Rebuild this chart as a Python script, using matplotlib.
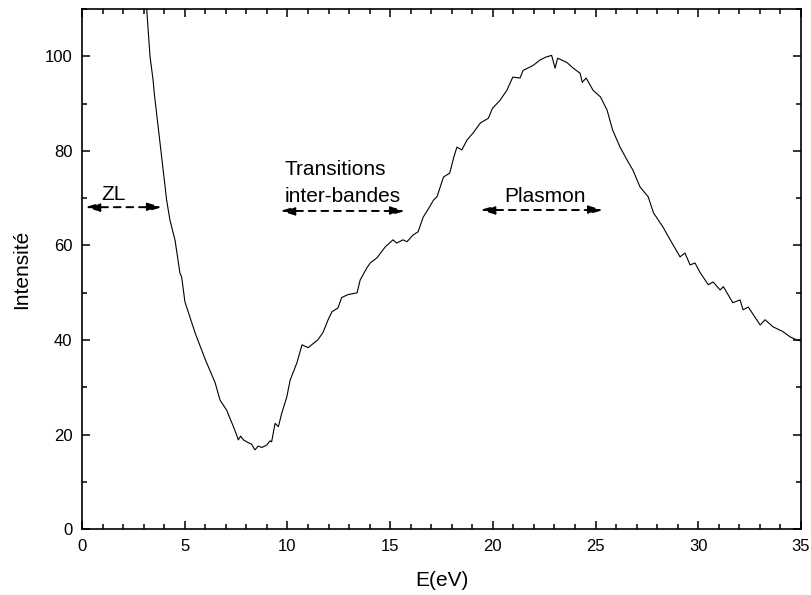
import matplotlib.pyplot as plt
from matplotlib.patches import FancyArrowPatch
from matplotlib.ticker import MultipleLocator

plt.rcParams['font.family'] = ['Liberation Sans', 'DejaVu Sans']

# Low-loss EELS spectrum: energy loss (eV) and intensity
energy = [3.02, 3.15, 3.31, 3.46, 3.52, 4.12, 4.28, 4.53, 4.77, 4.85,
          5.01, 5.50, 6.00, 6.48, 6.72, 7.04, 7.37, 7.53, 7.61, 7.72,
          7.86, 8.10, 8.25, 8.42, 8.58, 8.75, 8.99, 9.15, 9.23, 9.40,
          9.56, 9.72, 9.97, 10.13, 10.46, 10.71, 11.01, 11.49, 11.73, 11.98,
          12.17, 12.46, 12.64, 12.94, 13.39, 13.54, 13.87, 14.03, 14.36, 14.76,
          15.14, 15.32, 15.62, 15.82, 16.11, 16.36, 16.61, 16.91, 17.11, 17.28,
          17.50, 17.60, 17.90, 18.10, 18.25, 18.49, 18.74, 19.04, 19.39, 19.78,
          19.98, 20.35, 20.68, 20.97, 21.32, 21.47, 21.97, 22.29, 22.56, 22.86,
          23.03, 23.15, 23.60, 23.91, 24.25, 24.35, 24.54, 24.88, 25.24, 25.56,
          25.83, 26.19, 26.53, 26.82, 27.16, 27.56, 27.82, 28.28, 28.63, 29.11,
          29.35, 29.60, 29.84, 30.10, 30.49, 30.72, 31.06, 31.22, 31.68, 32.03,
          32.18, 32.43, 33.01, 33.25, 33.64, 34.12, 34.46, 34.76, 35.00]
intensity = [115, 110, 100, 95, 92.1, 69.6, 65.4, 61.1, 54.1, 53.4,
             48.1, 41.6, 35.9, 31.0, 27.3, 25.2, 21.7, 19.9, 18.9, 19.7,
             18.9, 18.3, 18.0, 16.8, 17.6, 17.3, 17.8, 18.7, 18.5, 22.4,
             21.7, 24.5, 28.0, 31.5, 35.2, 39.0, 38.4, 40.1, 41.6, 44.3,
             46.0, 46.8, 49.0, 49.6, 50.0, 52.7, 55.3, 56.3, 57.4, 59.7,
             61.2, 60.5, 61.2, 60.8, 62.2, 62.9, 66.0, 68.1, 69.6, 70.3,
             73.2, 74.5, 75.3, 78.7, 80.8, 80.2, 82.3, 83.8, 85.9, 86.9,
             89.0, 90.7, 92.8, 95.6, 95.4, 97.0, 98.1, 99.2, 99.8, 100.2,
             97.5, 99.6, 98.7, 97.5, 96.4, 94.5, 95.4, 92.8, 91.4, 88.6,
             84.4, 80.8, 78.1, 75.9, 72.4, 70.3, 66.9, 63.9, 61.2, 57.6,
             58.4, 55.9, 56.3, 54.2, 51.7, 52.3, 50.6, 51.3, 47.9, 48.5,
             46.4, 47.0, 43.2, 44.3, 42.8, 41.8, 40.7, 40.1, 39.8]

# text lines: (text, x, baseline y, alignment)
region_text = [
    ("ZL", 1.55, 69.6, 'center'),
    ("Transitions", 9.88, 74.8, 'left'),
    ("inter-bandes", 9.88, 69.3, 'left'),
    ("Plasmon", 22.54, 69.1, 'center'),
]
# double arrows: (start E, end E, y)
region_arrows = [
    (0.15, 3.90, 68.1),
    (9.64, 15.73, 67.3),
    (19.38, 25.37, 67.5),
]

fig = plt.figure(figsize=(8.11, 5.95), dpi=100)
ax = fig.add_axes([0.1011, 0.1104, 0.8866, 0.8745])

ax.plot(energy, intensity, color='black', lw=0.8)

for label, tx, ty, ha in region_text:
    ax.text(tx, ty, label, ha=ha, va='baseline', fontsize=15)

for x0, x1, ay in region_arrows:
    ax.add_patch(FancyArrowPatch((x0, ay), (x1, ay),
                                 arrowstyle='<|-|>,head_length=0.85,head_width=0.25',
                                 mutation_scale=10, color='black', lw=1.4,
                                 linestyle=(0, (3.5, 3)), shrinkA=0, shrinkB=0))

ax.set_xlim(0, 35)
ax.set_ylim(0, 110)
ax.xaxis.set_major_locator(MultipleLocator(5))
ax.xaxis.set_minor_locator(MultipleLocator(1))
ax.yaxis.set_major_locator(MultipleLocator(20))
ax.yaxis.set_minor_locator(MultipleLocator(10))
ax.tick_params(which='both', direction='in', top=True, right=True,
               labelsize=12, width=1.1)
ax.tick_params(which='major', length=6, pad=7)
ax.tick_params(which='minor', length=3.5)
for sp in ax.spines.values():
    sp.set_linewidth(1.2)

ax.set_xlabel("E(eV)", fontsize=15, labelpad=12)
ax.set_ylabel("Intensité", fontsize=15, labelpad=10)

fig.savefig("out.png", dpi=100)
